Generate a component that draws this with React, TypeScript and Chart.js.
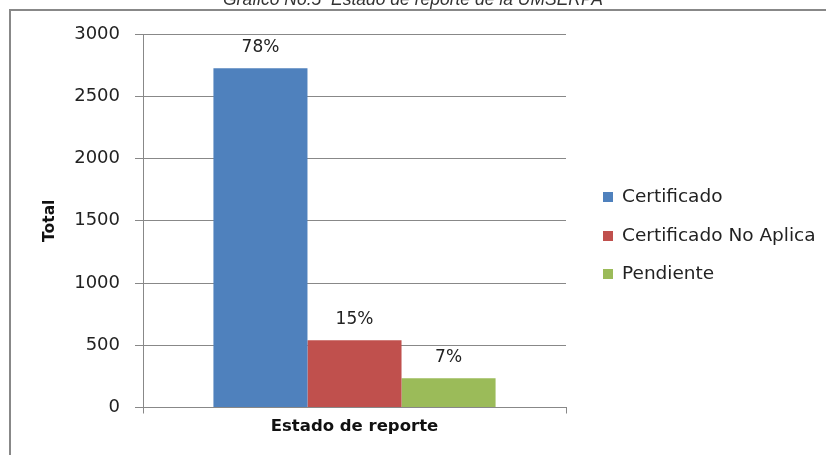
import React, { useEffect, useRef } from "react";
import { Chart, registerables } from "chart.js";

Chart.register(...registerables);

const categories = ["Estado de reporte"];
const seriesNames = ["Certificado", "Certificado No Aplica", "Pendiente"];
const seriesValues = [[2725], [540], [235]];
const seriesColors = ["#4F81BD", "#C0504D", "#9BBB59"];
const yTicks = [0, 500, 1000, 1500, 2000, 2500, 3000];
const chartTitle = "Grafico No.5  Estado de reporte de la UMSERPA";
const yAxisTitle = "Total";

const FONT = "'DejaVu Sans', sans-serif";

const decorPlugin = {
  id: "decor",
  beforeDraw(chart: any) {
    const ctx = chart.ctx;
    ctx.save();
    ctx.fillStyle = "#ffffff";
    ctx.fillRect(0, 0, chart.width, chart.height);
    ctx.strokeStyle = "#888888";
    ctx.lineWidth = 2;
    ctx.strokeRect(10, 10, chart.width + 20, chart.height + 20);
    ctx.font = "italic 17.5px 'Liberation Sans', Arial, sans-serif";
    ctx.fillStyle = "#333333";
    ctx.textAlign = "center";
    ctx.textBaseline = "alphabetic";
    ctx.fillText(chartTitle, 413, 5);
    ctx.restore();
  },
  afterDatasetsDraw(chart: any) {
    const ctx = chart.ctx;
    const datasets = chart.data.datasets;
    const total = datasets.reduce((s: number, d: any) => s + d.data[0], 0);
    ctx.save();
    ctx.font = "17px " + FONT;
    ctx.fillStyle = "#222222";
    ctx.textAlign = "center";
    ctx.textBaseline = "middle";
    datasets.forEach((d: any, i: number) => {
      const meta = chart.getDatasetMeta(i);
      meta.data.forEach((bar: any, j: number) => {
        const pct = Math.round((d.data[j] / total) * 100) + "%";
        ctx.fillText(pct, bar.x, bar.y - 21);
      });
    });
    // legend
    ctx.font = "18.5px " + FONT;
    const legendX = 603;
    const legendYs = [197, 236, 274];
    datasets.forEach((d: any, i: number) => {
      const y = legendYs[i];
      ctx.fillStyle = d.backgroundColor;
      ctx.fillRect(legendX, y - 5, 10, 10);
      ctx.fillStyle = "#222222";
      ctx.textAlign = "left";
      ctx.fillText(d.label, legendX + 19, y);
    });
    ctx.restore();
  },
};

export default function App() {
  const ref = useRef<HTMLCanvasElement>(null);
  useEffect(() => {
    if (!ref.current) return;
    const chart = new Chart(ref.current, {
      type: "bar",
      data: {
        labels: categories,
        datasets: seriesNames.map((name, i) => ({
          label: name,
          data: seriesValues[i],
          backgroundColor: seriesColors[i],
          borderWidth: 0,
          barPercentage: 1,
          categoryPercentage: 0.667,
        })),
      },
      options: {
        animation: false,
        responsive: false,
        layout: { padding: { left: 0, right: 260, top: 34, bottom: 0 } },
        plugins: {
          legend: { display: false },
          title: { display: false },
          tooltip: { enabled: false },
        },
        scales: {
          x: {
            afterFit: (s: any) => {
              s.height = 47.5;
            },
            grid: {
              drawOnChartArea: false,
              drawTicks: true,
              tickLength: 6,
              color: "#888888",
              offset: true,
            },
            border: { display: true, color: "#888888" },
            ticks: {
              color: "#111111",
              padding: 3,
              font: { family: FONT, size: 16.5, weight: "bold" },
            },
          },
          y: {
            min: 0,
            max: 3000,
            afterFit: (s: any) => {
              s.width = 143;
            },
            afterBuildTicks: (s: any) => {
              s.ticks = yTicks.map((v) => ({ value: v }));
            },
            grid: { color: "#888888", tickLength: 8 },
            border: { display: true, color: "#888888" },
            ticks: {
              color: "#222222",
              padding: 15,
              font: { family: FONT, size: 18 },
              callback: (v: any) => String(v),
            },
            title: {
              display: true,
              text: yAxisTitle,
              color: "#111111",
              font: { family: FONT, size: 15.5, weight: "bold" },
              padding: { top: 41, bottom: 0 },
            },
          },
        },
      },
      plugins: [decorPlugin],
    });
    return () => chart.destroy();
  }, []);
  return (
    <div style={{ position: "fixed", left: 0, top: 0, width: 826, height: 455 }}>
      <canvas ref={ref} width={826} height={455} style={{ display: "block" }} />
    </div>
  );
}
